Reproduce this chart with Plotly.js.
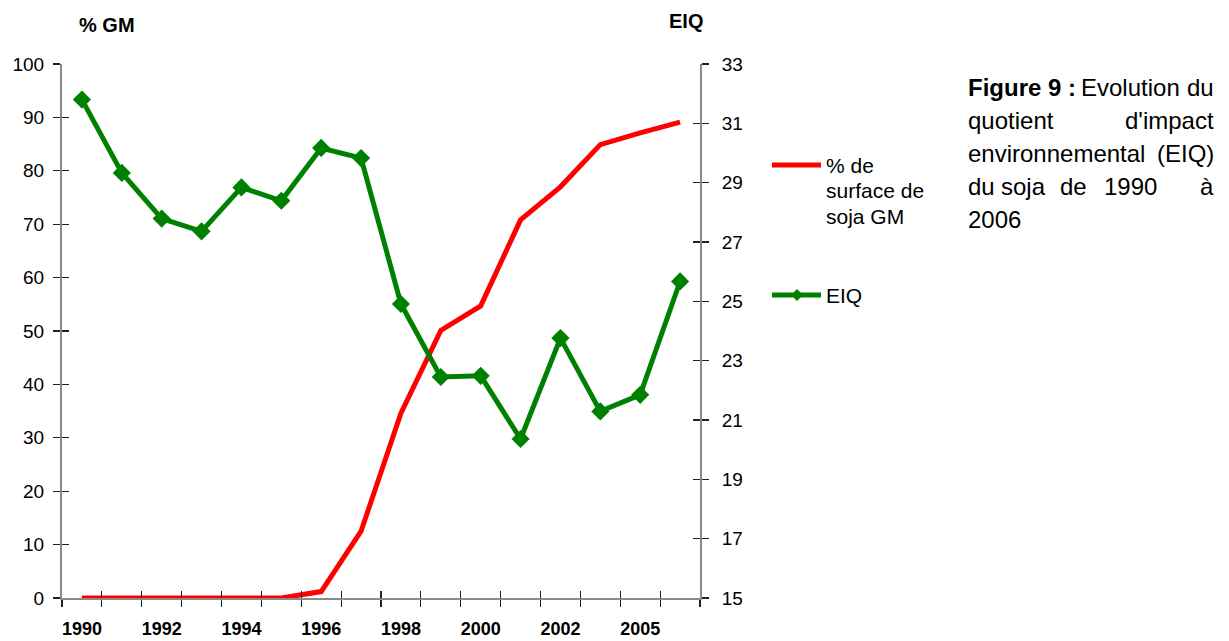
<!DOCTYPE html>
<html>
<head>
<meta charset="utf-8">
<script src="https://cdn.plot.ly/plotly-3.0.1.min.js"></script>
<style>html,body{margin:0;padding:0;background:#fff;}#chart{width:1229px;height:641px;}</style>
</head>
<body>
<div id="chart"></div>
<script>
// ---- data ----
var years = ["1990","1991","1992","1993","1994","1995","1996","1997","1998","1999","2000","2001","2002","2004","2005","2006"];
var xTickLabels = ["1990","","1992","","1994","","1996","","1998","","2000","","2002","","2005",""];
var pctGM = [0, 0, 0, 0, 0, 0, 1.2, 12.5, 34.6, 50.1, 54.7, 70.8, 77.0, 84.9, 87.1, 89.1];
var eiq = [31.80, 29.33, 27.79, 27.36, 28.84, 28.39, 30.17, 29.83, 24.91, 22.45, 22.49, 20.36, 23.76, 21.29, 21.85, 25.67];
var leftTicks = [0, 10, 20, 30, 40, 50, 60, 70, 80, 90, 100];
var rightTicks = [15, 17, 19, 21, 23, 25, 27, 29, 31, 33];

// ---- layout helpers (pixel -> paper) ----
var W = 1229, H = 641, L = 62, R = 700, T = 64, B = 598;
function px(x){ return (x - L) / (R - L); }
function py(y){ return (B - y) / (B - T); }

var FONT = "Liberation Sans, Arial, Helvetica, sans-serif";
var AXC = "#8a8a8a", TKC = "#222";

var traces = [
  {x: years, y: pctGM, type: "scatter", mode: "lines", name: "% de surface de soja GM",
   line: {color: "#ff0000", width: 5}, xaxis: "x", yaxis: "y", showlegend: false, cliponaxis: false},
  {x: years, y: eiq, type: "scatter", mode: "lines+markers", name: "EIQ",
   line: {color: "#008000", width: 5}, marker: {symbol: "diamond", size: 14, color: "#008000"},
   xaxis: "x", yaxis: "y2", showlegend: false, cliponaxis: false},
  // invisible copies that only carry the inner half of the crossing tick marks
  {x: years, y: pctGM, type: "scatter", mode: "lines", line: {width: 0}, opacity: 0,
   xaxis: "x2", yaxis: "y3", showlegend: false, hoverinfo: "skip"},
  {x: years, y: eiq, type: "scatter", mode: "lines", line: {width: 0}, opacity: 0,
   xaxis: "x2", yaxis: "y4", showlegend: false, hoverinfo: "skip"}
];

var ann = [];
function txt(t, x, y, size, opts){
  var a = {text: t, x: px(x), y: py(y), xref: "paper", yref: "paper", showarrow: false,
    xanchor: "left", yanchor: "middle", font: {family: FONT, size: size, color: "#000"}};
  for (var k in opts) a[k] = opts[k];
  ann.push(a);
}
// axis titles
txt("<b>% GM</b>", 77, 25, 20, {});
txt("<b>EIQ</b>", 667, 21, 20, {});
// legend text
txt("% de", 824, 165, 21, {});
txt("surface de", 824, 190, 21, {});
txt("soja GM", 824, 216, 21, {});
txt("EIQ", 824, 295, 21, {});
// caption (justified by word placement)
var CS = 24;
txt("<b>Figure 9 :</b>", 966, 87, CS, {});
txt("Evolution", 1130, 87, CS, {xanchor: "center"});
txt("du", 1216, 87, CS, {xanchor: "right"});
txt("quotient", 966, 120, CS, {});
txt("d'impact", 1216, 120, CS, {xanchor: "right"});
txt("environnemental", 966, 153, CS, {});
txt("(EIQ)", 1216, 153, CS, {xanchor: "right"});
txt("du", 966, 186, CS, {});
txt("soja", 1023, 186, CS, {xanchor: "center"});
txt("de", 1073, 186, CS, {xanchor: "center"});
txt("1990", 1130, 186, CS, {xanchor: "center"});
txt("à", 1216, 186, CS, {xanchor: "right"});
txt("2006", 966, 219, CS, {});

var dy = 6 / (B - T), dx = 6 / (R - L);
var shapes = [
  {type: "line", xref: "paper", yref: "paper", x0: px(772), x1: px(821), y0: py(165), y1: py(165),
   line: {color: "#ff0000", width: 5}},
  {type: "line", xref: "paper", yref: "paper", x0: px(772), x1: px(821), y0: py(295), y1: py(295),
   line: {color: "#008000", width: 5}},
  {type: "path", xref: "paper", yref: "paper", fillcolor: "#008000", line: {width: 0},
   path: "M " + px(797) + "," + (py(295) + dy) + " L " + (px(797) + dx) + "," + py(295) +
         " L " + px(797) + "," + (py(295) - dy) + " L " + (px(797) - dx) + "," + py(295) + " Z"}
];

var tickCommon = {ticklen: 7, tickwidth: 1.2, tickcolor: TKC, showgrid: false, zeroline: false, fixedrange: true};
function ax(o){ var r = {}; for (var k in tickCommon) r[k] = tickCommon[k]; for (var k2 in o) r[k2] = o[k2]; return r; }

var layout = {
  width: W, height: H,
  margin: {l: L, r: W - R, t: T, b: H - B, pad: 0},
  paper_bgcolor: "#fff", plot_bgcolor: "#fff",
  font: {family: FONT, size: 19, color: "#000"},
  showlegend: false,
  xaxis: ax({type: "category", categoryorder: "array", categoryarray: years,
    range: [-0.5, years.length - 0.5], tickmode: "array", tickvals: years, ticktext: xTickLabels,
    tickson: "boundaries", ticks: "outside", tickangle: 0, anchor: "y",
    showline: true, linecolor: AXC, linewidth: 2,
    tickfont: {family: FONT, size: 18, color: "#000", weight: "bold"}, ticklabelstandoff: 13}),
  xaxis2: ax({type: "category", categoryorder: "array", categoryarray: years, overlaying: "x",
    anchor: "y3", range: [-0.5, years.length - 0.5], tickmode: "array", tickvals: years,
    tickson: "boundaries", ticks: "inside", showticklabels: false, showline: false}),
  yaxis: ax({range: [0, 100], tickmode: "array", tickvals: leftTicks, ticks: "outside", anchor: "x",
    showline: true, linecolor: AXC, linewidth: 2,
    tickfont: {family: FONT, size: 19, color: "#000"}, ticklabelstandoff: 5}),
  yaxis2: ax({overlaying: "y", side: "right", anchor: "x", range: [15, 33], tickmode: "array",
    tickvals: rightTicks, ticks: "outside", showline: true, linecolor: AXC, linewidth: 2,
    tickfont: {family: FONT, size: 19, color: "#000"}, ticklabelstandoff: 9}),
  yaxis3: ax({overlaying: "y", side: "left", anchor: "x2", range: [0, 100], tickmode: "array",
    tickvals: leftTicks, ticks: "inside", showticklabels: false, showline: false}),
  yaxis4: ax({overlaying: "y", side: "right", anchor: "x2", range: [15, 33], tickmode: "array",
    tickvals: rightTicks, ticks: "inside", showticklabels: false, showline: false}),
  annotations: ann,
  shapes: shapes
};

Plotly.newPlot("chart", traces, layout, {staticPlot: true, displayModeBar: false});
</script>
</body>
</html>
